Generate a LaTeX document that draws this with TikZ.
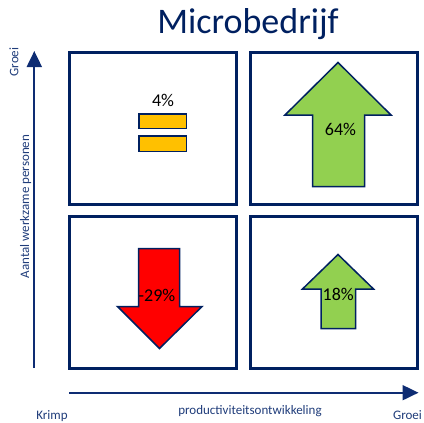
\documentclass[tikz,border=0pt]{standalone}
\usepackage{fontspec}
\setmainfont{Carlito}
\usetikzlibrary{arrows.meta}
\definecolor{navy}{HTML}{002060}
\definecolor{axisblue}{HTML}{0E2C73}
\definecolor{labelblue}{HTML}{1F3C7A}
\definecolor{gold}{HTML}{FFC000}
\definecolor{lgreen}{HTML}{92D050}
\definecolor{bred}{HTML}{FF0000}
\begin{document}
\begin{tikzpicture}[x=1pt,y=-1pt,
  quad/.style={draw=navy,line width=3pt,minimum width=167pt,minimum height=152pt,inner sep=0pt},
  shapeline/.style={draw=navy,line width=1.5pt,line join=miter},
  pct/.style={font=\fontsize{18}{20}\selectfont,text=black,inner sep=0pt,anchor=base},
  axlabel/.style={font=\fontsize{13}{15}\selectfont,text=labelblue,inner sep=0pt,anchor=base},
  axisline/.style={draw=axisblue,line width=2pt,-{Triangle[length=16pt,width=15pt]}}]
\useasboundingbox (0,0) rectangle (424,423);

% title
\node[font=\fontsize{36}{40}\selectfont,text=navy,inner sep=0pt,anchor=base] (title) at (248,34) {Microbedrijf};

% quadrants
\node[quad] (tl) at (153,128.5) {};
\node[quad] (tr) at (334,128.5) {};
\node[quad] (bl) at (153,292.5) {};
\node[quad] (br) at (334,292.5) {};

% equal sign
\draw[shapeline,fill=gold] (138.75,113.75) rectangle (186.25,128.25);
\draw[shapeline,fill=gold] (138.75,135.75) rectangle (186.25,151.25);
\node[pct] (p4) at (163,106.5) {4\%};

% big up arrow
\draw[shapeline,fill=lgreen] (338,62.5) -- (391,115) -- (364.5,115) -- (364.5,186.5)
  -- (312.5,186.5) -- (312.5,115) -- (285,115) -- cycle;
\node[pct] (p64) at (340.5,135.5) {64\%};

% down arrow
\draw[shapeline,fill=bred] (138.5,248.5) -- (179.5,248.5) -- (179.5,306.5) -- (202,306.5)
  -- (159.5,348.5) -- (117.5,306.5) -- (138.5,306.5) -- cycle;
\node[pct] (p29) at (157,301) {-29\%};

% small up arrow
\draw[shapeline,fill=lgreen] (338,254.5) -- (373.5,289) -- (355.5,289) -- (355.5,328.5)
  -- (321,328.5) -- (321,289) -- (302.5,289) -- cycle;
\node[pct] (p18) at (338.3,300.5) {18\%};

% axes
\coordinate (vs) at (34.3,368);
\coordinate (ve) at (34.3,51);
\coordinate (hs) at (69,392.7);
\coordinate (he) at (418.5,392.7);
\draw[axisline] (vs) -- (ve);
\draw[axisline] (hs) -- (he);

% axis labels
\node[axlabel] (krimp) at (52,419.5) {Krimp};
\node[axlabel] (prod) at (250,414) {productiviteitsontwikkeling};
\node[axlabel] (groeih) at (407.5,419.5) {Groei};
\node[axlabel,rotate=90] (groeiv) at (18.5,62) {Groei};
\node[axlabel,rotate=90] (aantal) at (29,206.5) {Aantal werkzame personen};
\end{tikzpicture}
\end{document}
